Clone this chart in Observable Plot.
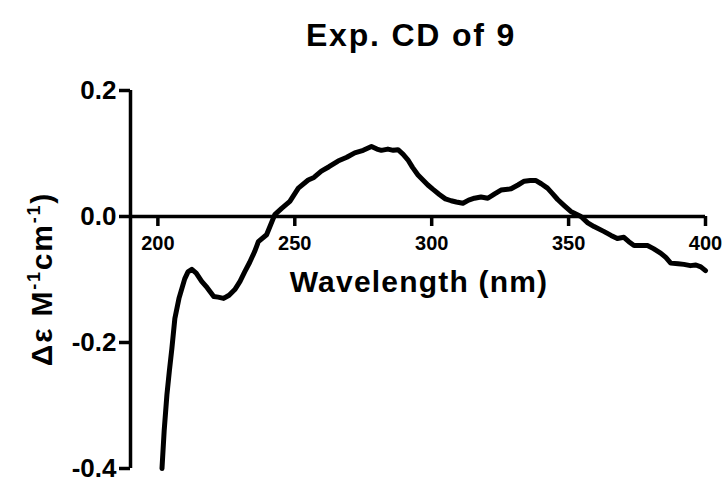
<!DOCTYPE html>
<html>
<head>
<meta charset="utf-8">
<script src="https://cdn.jsdelivr.net/npm/d3@7"></script>
<script src="https://cdn.jsdelivr.net/npm/@observablehq/plot@0.6"></script>
<style>
  body { margin: 0; background: #fff; }
  #chart { width: 727px; height: 485px; }
</style>
</head>
<body>
<div id="chart"></div>
<script>
// CD spectrum of compound 9: wavelength (nm) and Δε (M^-1 cm^-1)
const wavelength = [
  201.5, 202.3, 203.3, 204.2, 205.1, 206.2, 207.7, 209.8, 211.0, 212.4,
  214.0, 216.0, 218.0, 220.4, 222.0, 224.0, 226.0, 228.1, 230.0, 231.7,
  233.5, 235.3, 236.7, 239.7, 242.7, 245.2, 248.2, 251.3, 254.9, 257.0,
  259.7, 262.5, 265.8, 269.0, 271.9, 275.0, 278.0, 280.0, 281.6, 284.0,
  286.0, 287.7, 289.5, 291.3, 293.0, 295.0, 296.8, 298.6, 300.5, 302.8,
  305.0, 307.1, 309.0, 311.4, 313.5, 315.6, 318.0, 320.5, 323.0, 325.3,
  329.0, 331.5, 333.8, 336.0, 338.1, 340.0, 342.3, 344.2, 346.0, 348.5,
  350.8, 354.5, 357.0, 359.3, 363.0, 365.5, 367.8, 370.2, 372.0, 373.9,
  378.8, 381.0, 383.6, 385.5, 387.3, 390.0, 392.1, 394.5, 396.5, 398.3,
  400.0
];
const deltaEps = [
  -0.400, -0.340, -0.283, -0.245, -0.210, -0.162, -0.130, -0.099, -0.088, -0.084,
  -0.090, -0.103, -0.113, -0.127, -0.128, -0.130, -0.125, -0.116, -0.103, -0.088,
  -0.073, -0.056, -0.040, -0.029, 0.003, 0.013, 0.024, 0.045, 0.058, 0.062,
  0.072, 0.079, 0.088, 0.094, 0.101, 0.105, 0.111, 0.107, 0.105, 0.107,
  0.105, 0.106, 0.099, 0.090, 0.078, 0.066, 0.058, 0.050, 0.043, 0.035,
  0.028, 0.025, 0.023, 0.021, 0.026, 0.029, 0.031, 0.029, 0.036, 0.042,
  0.044, 0.050, 0.056, 0.057, 0.057, 0.052, 0.045, 0.036, 0.027, 0.017,
  0.008, 0.000, -0.010, -0.016, -0.024, -0.030, -0.035, -0.033, -0.040, -0.046,
  -0.046, -0.051, -0.058, -0.065, -0.074, -0.075, -0.076, -0.078, -0.077, -0.080,
  -0.086
];

const xTicks = [200, 250, 300, 350, 400];
const yTicks = [0.2, 0.0, -0.2, -0.4];
const xDomain = [190, 400];
const yDomain = [-0.4, 0.2];

const titleText = "Exp. CD of 9";
const xLabelText = "Wavelength (nm)";

const font = "'Liberation Sans', Arial, Helvetica, sans-serif";
const axisWidth = 3.5;

const spectrum = wavelength.map((w, i) => ({w, v: deltaEps[i]}));

const chart = Plot.plot({
  width: 727,
  height: 485,
  marginLeft: 130,
  marginRight: 22,
  marginTop: 90,
  marginBottom: 17,
  style: {fontFamily: font, background: "#fff", color: "#000", overflow: "visible"},
  x: {domain: xDomain, axis: null},
  y: {domain: yDomain},
  marks: [
    // left axis with outward ticks
    Plot.axisY({
      ticks: yTicks,
      tickFormat: d => d.toFixed(1),
      tickSize: 11,
      tickPadding: 3,
      fontSize: 26,
      fontWeight: "bold",
      strokeWidth: axisWidth,
      label: null
    }),
    Plot.ruleX([xDomain[0]], {y1: yDomain[0], y2: yDomain[1], stroke: "#000", strokeWidth: axisWidth}),
    // x axis drawn along Δε = 0
    Plot.ruleY([0], {x1: xDomain[0], x2: xDomain[1], stroke: "#000", strokeWidth: axisWidth}),
    Plot.ruleX(xTicks, {x: d => d, y1: 0, y2: 0, insetBottom: -10, stroke: "#000", strokeWidth: axisWidth}),
    Plot.text(xTicks, {x: d => d, y: 0, text: d => String(d), dy: 27, fontSize: 20, fontWeight: "bold", fill: "#000"}),
    // spectrum
    Plot.line(spectrum, {x: "w", y: "v", stroke: "#000", strokeWidth: 5, strokeLinejoin: "round", strokeLinecap: "round"})
  ]
});

const svg = d3.select(chart);

svg.append("text")
  .attr("x", 411).attr("y", 46)
  .attr("text-anchor", "middle")
  .attr("font-family", font)
  .attr("font-weight", "bold")
  .attr("font-size", 32)
  .attr("letter-spacing", 1.8)
  .attr("fill", "#000")
  .text(titleText);

svg.append("text")
  .attr("x", 419).attr("y", 292)
  .attr("text-anchor", "middle")
  .attr("font-family", font)
  .attr("font-weight", "bold")
  .attr("font-size", 30)
  .attr("letter-spacing", 1.2)
  .attr("fill", "#000")
  .text(xLabelText);

const yl = svg.append("text")
  .attr("transform", "translate(52,279) rotate(-90)")
  .attr("text-anchor", "middle")
  .attr("font-family", font)
  .attr("font-weight", "bold")
  .attr("font-size", 30)
  .attr("letter-spacing", 1.8)
  .attr("fill", "#000");
yl.append("tspan").text("\u0394\u03b5 M");
yl.append("tspan").attr("font-size", 18).attr("dy", -12).text("-1");
yl.append("tspan").attr("dy", 12).text("cm");
yl.append("tspan").attr("font-size", 18).attr("dy", -12).text("-1");
yl.append("tspan").attr("dy", 12).text(")");

document.getElementById("chart").appendChild(chart);
</script>
</body>
</html>
